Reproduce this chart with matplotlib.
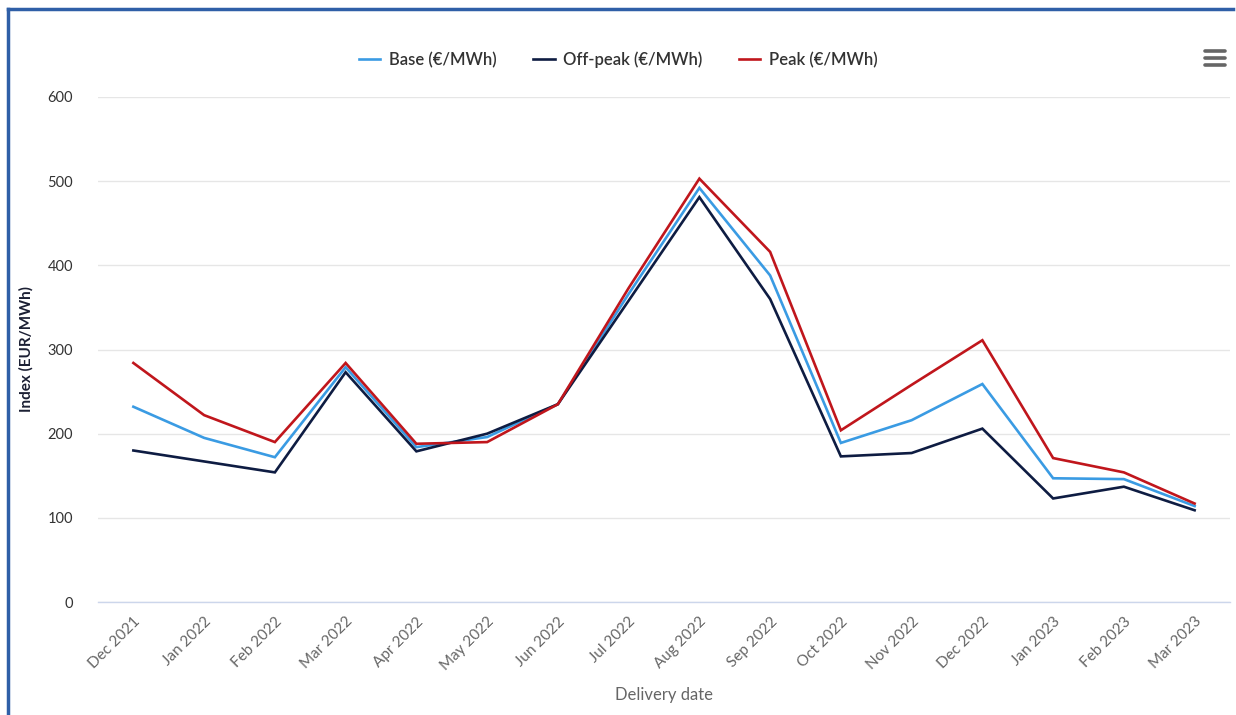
import numpy as np
import matplotlib
matplotlib.use('Agg')
from matplotlib import pyplot as plt
from matplotlib.lines import Line2D

months = ['Dec 2021', 'Jan 2022', 'Feb 2022', 'Mar 2022', 'Apr 2022', 'May 2022',
          'Jun 2022', 'Jul 2022', 'Aug 2022', 'Sep 2022', 'Oct 2022', 'Nov 2022',
          'Dec 2022', 'Jan 2023', 'Feb 2023', 'Mar 2023']
base = [232, 195, 172, 279, 184, 196, 235, 366, 492, 388, 189, 216, 259, 147, 146, 114]
off_peak = [180, 167, 154, 273, 179, 200, 235, 358, 481, 360, 173, 177, 206, 123, 137, 109]
peak = [284, 222, 190, 284, 188, 190, 235, 373, 503, 416, 204, 258, 311, 171, 154, 117]

plt.rcParams['font.family'] = ['Lato', 'DejaVu Sans']

fig = plt.figure(figsize=(12.36, 7.15), dpi=100)
ax = fig.add_axes([98 / 1236, 113 / 715, 1132 / 1236, 505 / 715])

x = np.arange(len(months))
ax.plot(x, base, color='#3a9be3', lw=1.9, label='Base (€/MWh)', solid_joinstyle='miter')
ax.plot(x, off_peak, color='#0e1c42', lw=1.9, label='Off-peak (€/MWh)', solid_joinstyle='miter')
ax.plot(x, peak, color='#c0161c', lw=1.9, label='Peak (€/MWh)', solid_joinstyle='miter')

ax.set_xlim(-0.5, len(months) - 0.5)
ax.set_ylim(0, 600)
ax.set_yticks(range(0, 601, 100))
ax.set_xticks(x)
ax.set_xticklabels(months, rotation=45, ha='right', rotation_mode='anchor',
                   fontsize=11, color='#666666')
ax.tick_params(axis='x', length=0, pad=9)
ax.tick_params(axis='y', length=0, pad=18, labelsize=10.5, labelcolor='#333333')

ax.grid(axis='y', color='#e6e6e6', lw=1)
ax.set_axisbelow(True)
for s in ['top', 'right', 'left']:
    ax.spines[s].set_visible(False)
ax.spines['bottom'].set_color('#ccd6eb')
ax.spines['bottom'].set_linewidth(1)

ax.set_ylabel('Index (EUR/MWh)', fontsize=11, fontweight='bold', color='#1b1f33', labelpad=10)
ax.set_xlabel('Delivery date', fontsize=12, color='#666666', labelpad=10)

ax.legend(loc='center', bbox_to_anchor=(0.5, 1 - 60 / 715), bbox_transform=fig.transFigure,
          ncol=3, frameon=False,
          prop={'size': 12, 'weight': 'semibold'}, handlelength=1.3, columnspacing=2.2,
          handletextpad=0.5, labelcolor='#333333')

# hamburger menu icon
for yy in [51, 58, 65]:
    fig.add_artist(Line2D([1205 / 1236, 1225 / 1236], [1 - yy / 715, 1 - yy / 715],
                          color='#666666', lw=2.6, solid_capstyle='round'))

# frame border (left and top)
fig.add_artist(Line2D([8 / 1236, 8 / 1236], [0, 1 - 9 / 715], color='#2f5fa7', lw=2.5))
fig.add_artist(Line2D([8 / 1236, 1233 / 1236], [1 - 9 / 715, 1 - 9 / 715], color='#2f5fa7', lw=2.5))

fig.savefig('out.png', dpi=100, facecolor='white')
